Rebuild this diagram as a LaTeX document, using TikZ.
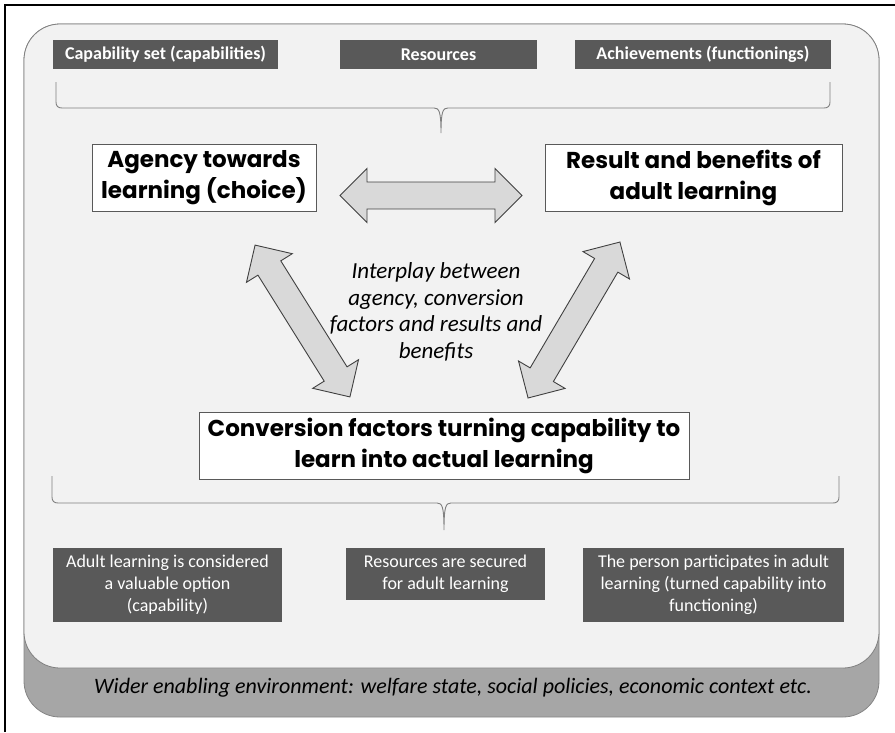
\documentclass[tikz,border=0pt]{standalone}
\usepackage{fontspec}
\setmainfont{Carlito}
\newfontfamily\gothic{Poppins}
\usetikzlibrary{shapes.arrows}
\definecolor{darkbox}{HTML}{595959}
\definecolor{lightbg}{HTML}{F2F2F2}
\definecolor{band}{HTML}{A6A6A6}
\definecolor{arrowfill}{HTML}{D9D9D9}
\definecolor{arrowline}{HTML}{404040}
\tikzset{
  darklabel/.style={fill=darkbox, text=white, inner sep=0pt, align=center},
  topbox/.style={darklabel, font=\fontsize{18}{20}\selectfont\bfseries},
  botbox/.style={darklabel, font=\fontsize{18}{22}\selectfont},
  whitebox/.style={draw=darkbox, line width=1pt, fill=white, inner sep=0pt, align=center,
     font=\gothic\bfseries\fontsize{23}{31}\selectfont},
  blockarrow/.style={double arrow, draw=arrowline, fill=arrowfill, line width=0.9pt,
     inner sep=13pt, double arrow head extend=13.5pt, minimum width=54pt},
  bracepath/.style={draw=gray, line width=0.9pt},
}
\begin{document}
\begin{tikzpicture}[x=1pt,y=-1pt]
\useasboundingbox (0,0) rectangle (895,732);
% outer frame (cropped)
\draw[line width=1.3pt] (5,732) -- (5,5) -- (895,5);
% background panels
\draw[draw=band!80!black, fill=band, rounded corners=36pt, line width=0.8pt] (24,24) rectangle (879,717);
\draw[draw=gray, fill=lightbg, rounded corners=36pt, line width=0.8pt] (24,24) rectangle (879,668);

% top labels
\node[topbox, minimum width=225pt, minimum height=29pt] (cap) at (165.5,54.5) {Capability set (capabilities)};
\node[topbox, minimum width=197pt, minimum height=29pt] (res) at (438.5,54.5) {Resources};
\node[topbox, minimum width=256pt, minimum height=29pt] (ach) at (703,54.5) {Achievements (functionings)};

% top brace
\coordinate (tb) at (441,133);
\draw[bracepath] (56,82) -- (56,102) .. controls (56,106) and (58,108) .. (62,108) -- (434,108)
   .. controls (439,108) and (441,111) .. (tb)
   .. controls (441,111) and (443,108) .. (448,108) -- (824,108)
   .. controls (828,108) and (830,106) .. (830,102) -- (830,82);

% main boxes
\node[whitebox, minimum width=224pt, minimum height=67pt] (agency) at (204,177.5) {Agency towards\\learning (choice)};
\node[whitebox, minimum width=297pt, minimum height=67pt] (result) at (693.5,177.5) {Result and benefits of\\adult learning};
\node[whitebox, minimum width=490pt, minimum height=67pt] (conv) at (444,445.5) {Conversion factors turning capability to\\learn into actual learning};

% block arrows
\node[blockarrow, minimum height=182pt] (harrow) at (431,195.5) {};
\node[blockarrow, minimum height=179pt, rotate=-58] (larrow) at (302.5,321) {};
\node[blockarrow, minimum height=181pt, rotate=59.5] (rarrow) at (574,320) {};

% interplay text
\node[align=center, font=\itshape\fontsize{23}{26.7}\selectfont] (inter) at (436,312)
  {Interplay between\\agency, conversion\\factors and results and\\benefits};

% bottom brace
\coordinate (bb) at (444,530);
\draw[bracepath] (52,476) -- (52,497) .. controls (52,501) and (54,503) .. (58,503) -- (437,503)
   .. controls (442,503) and (444,506) .. (bb)
   .. controls (444,506) and (446,503) .. (451,503) -- (833,503)
   .. controls (837,503) and (839,501) .. (839,497) -- (839,476);

% bottom labels
\node[botbox, minimum width=229pt, minimum height=74pt] (b1) at (167.5,585) {Adult learning is considered\\a valuable option\\(capability)};
\node[botbox, minimum width=199pt, minimum height=52pt] (b2) at (445.5,574) {Resources are secured\\for adult learning};
\node[botbox, minimum width=261pt, minimum height=74pt] (b3) at (713.5,585) {The person participates in adult\\learning (turned capability into\\functioning)};

% footer
\node[font=\itshape\fontsize{22}{26}\selectfont] (foot) at (453,688) {Wider enabling environment: welfare state, social policies, economic context etc.};
\end{tikzpicture}
\end{document}
